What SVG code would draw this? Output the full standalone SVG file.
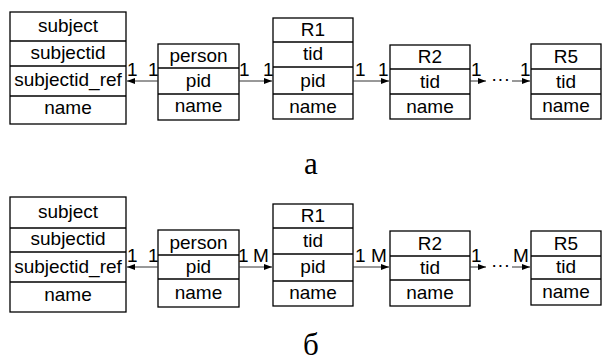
<svg xmlns="http://www.w3.org/2000/svg" width="603" height="362" viewBox="0 0 603 362">
<style>
.b{fill:#fff;stroke:#000;stroke-width:1.3}
.l{stroke:#000;stroke-width:1.3}
.t{font-family:"Liberation Sans",Arial,sans-serif;font-size:19px;fill:#000;text-anchor:middle}
.m{font-family:"Liberation Sans",Arial,sans-serif;font-size:19px;fill:#000}
.c{stroke:#333;stroke-width:1;fill:none}
.cap{font-family:"Liberation Serif","Times New Roman",serif;font-size:31px;fill:#000;text-anchor:middle}
</style>
<defs>
<marker id="ah" viewBox="0 0 8 6" refX="8" refY="3" markerWidth="8" markerHeight="6" markerUnits="userSpaceOnUse" orient="auto">
<path d="M0,0 L8,3 L0,6 Z" fill="#000"/>
</marker>
</defs>
<!-- Diagram a -->
<g id="a-subject">
<rect class="b" x="10" y="12" width="116" height="112"/>
<line class="l" x1="10" y1="41" x2="126" y2="41"/><line class="l" x1="10" y1="66" x2="126" y2="66"/><line class="l" x1="10" y1="96" x2="126" y2="96"/>
<text class="t" x="68" y="32">subject</text><text class="t" x="68" y="58.5">subjectid</text><text class="t" x="68" y="86">subjectid_ref</text><text class="t" x="68" y="113.5">name</text>
</g>
<g id="a-person">
<rect class="b" x="158" y="44" width="81" height="76"/>
<line class="l" x1="158" y1="68" x2="239" y2="68"/><line class="l" x1="158" y1="94" x2="239" y2="94"/>
<text class="t" x="198.5" y="62">person</text><text class="t" x="198.5" y="87">pid</text><text class="t" x="198.5" y="112">name</text>
</g>
<g id="a-R1">
<rect class="b" x="273" y="18" width="80" height="101"/>
<line class="l" x1="273" y1="42" x2="353" y2="42"/><line class="l" x1="273" y1="67" x2="353" y2="67"/><line class="l" x1="273" y1="94" x2="353" y2="94"/>
<text class="t" x="313" y="35.5">R1</text><text class="t" x="313" y="60">tid</text><text class="t" x="313" y="87">pid</text><text class="t" x="313" y="112.5">name</text>
</g>
<g id="a-R2">
<rect class="b" x="390" y="45" width="80" height="74"/>
<line class="l" x1="390" y1="69" x2="470" y2="69"/><line class="l" x1="390" y1="94" x2="470" y2="94"/>
<text class="t" x="430" y="63">R2</text><text class="t" x="430" y="87.5">tid</text><text class="t" x="430" y="112.5">name</text>
</g>
<g id="a-R5">
<rect class="b" x="531" y="44" width="70" height="75"/>
<line class="l" x1="531" y1="69" x2="601" y2="69"/><line class="l" x1="531" y1="94" x2="601" y2="94"/>
<text class="t" x="566" y="63">R5</text><text class="t" x="566" y="87.5">tid</text><text class="t" x="566" y="112">name</text>
</g>
<g id="a-connectors">
<line class="c" x1="158" y1="81" x2="127" y2="81" marker-end="url(#ah)"/>
<line class="c" x1="239" y1="81" x2="272" y2="81" marker-end="url(#ah)"/>
<line class="c" x1="353" y1="81" x2="389" y2="81" marker-end="url(#ah)"/>
<line class="c" x1="470" y1="81" x2="486" y2="81" marker-end="url(#ah)"/>
<line class="c" x1="512" y1="81" x2="530" y2="81" marker-end="url(#ah)"/>
<text class="m" x="491" y="85">···</text>
<text class="m" x="127" y="76">1</text><text class="m" x="148" y="76">1</text>
<text class="m" x="239" y="76">1</text><text class="m" x="263" y="76">1</text>
<text class="m" x="355" y="76">1</text><text class="m" x="378" y="76">1</text>
<text class="m" x="471" y="76">1</text><text class="m" x="520" y="76">1</text>
</g>
<text class="cap" x="311" y="174">а</text>
<!-- Diagram б -->
<g id="b-subject">
<rect class="b" x="10" y="197" width="116" height="115"/>
<line class="l" x1="10" y1="228" x2="126" y2="228"/><line class="l" x1="10" y1="252" x2="126" y2="252"/><line class="l" x1="10" y1="282" x2="126" y2="282"/>
<text class="t" x="68" y="217.5">subject</text><text class="t" x="68" y="245">subjectid</text><text class="t" x="68" y="273">subjectid_ref</text><text class="t" x="68" y="301">name</text>
</g>
<g id="b-person">
<rect class="b" x="158" y="230" width="81" height="77"/>
<line class="l" x1="158" y1="255" x2="239" y2="255"/><line class="l" x1="158" y1="279" x2="239" y2="279"/>
<text class="t" x="198.5" y="248.5">person</text><text class="t" x="198.5" y="273">pid</text><text class="t" x="198.5" y="298.5">name</text>
</g>
<g id="b-R1">
<rect class="b" x="273" y="204" width="80" height="102"/>
<line class="l" x1="273" y1="228" x2="353" y2="228"/><line class="l" x1="273" y1="254" x2="353" y2="254"/><line class="l" x1="273" y1="281" x2="353" y2="281"/>
<text class="t" x="313" y="222">R1</text><text class="t" x="313" y="247">tid</text><text class="t" x="313" y="273">pid</text><text class="t" x="313" y="299">name</text>
</g>
<g id="b-R2">
<rect class="b" x="390" y="231" width="80" height="75"/>
<line class="l" x1="390" y1="256" x2="470" y2="256"/><line class="l" x1="390" y1="280" x2="470" y2="280"/>
<text class="t" x="430" y="250">R2</text><text class="t" x="430" y="274">tid</text><text class="t" x="430" y="299">name</text>
</g>
<g id="b-R5">
<rect class="b" x="531" y="231" width="70" height="74"/>
<line class="l" x1="531" y1="256" x2="601" y2="256"/><line class="l" x1="531" y1="279" x2="601" y2="279"/>
<text class="t" x="566" y="250">R5</text><text class="t" x="566" y="273">tid</text><text class="t" x="566" y="298">name</text>
</g>
<g id="b-connectors">
<line class="c" x1="158" y1="267" x2="127" y2="267" marker-end="url(#ah)"/>
<line class="c" x1="239" y1="267" x2="272" y2="267" marker-end="url(#ah)"/>
<line class="c" x1="353" y1="267" x2="389" y2="267" marker-end="url(#ah)"/>
<line class="c" x1="470" y1="267" x2="486" y2="267" marker-end="url(#ah)"/>
<line class="c" x1="512" y1="267" x2="530" y2="267" marker-end="url(#ah)"/>
<text class="m" x="491" y="271">···</text>
<text class="m" x="127" y="262">1</text><text class="m" x="148" y="262">1</text>
<text class="m" x="238" y="262">1</text><text class="m" x="253" y="262">M</text>
<text class="m" x="355" y="262">1</text><text class="m" x="371" y="262">M</text>
<text class="m" x="471" y="262">1</text><text class="m" x="513" y="262">M</text>
</g>
<text class="cap" x="311" y="355">б</text>
</svg>
